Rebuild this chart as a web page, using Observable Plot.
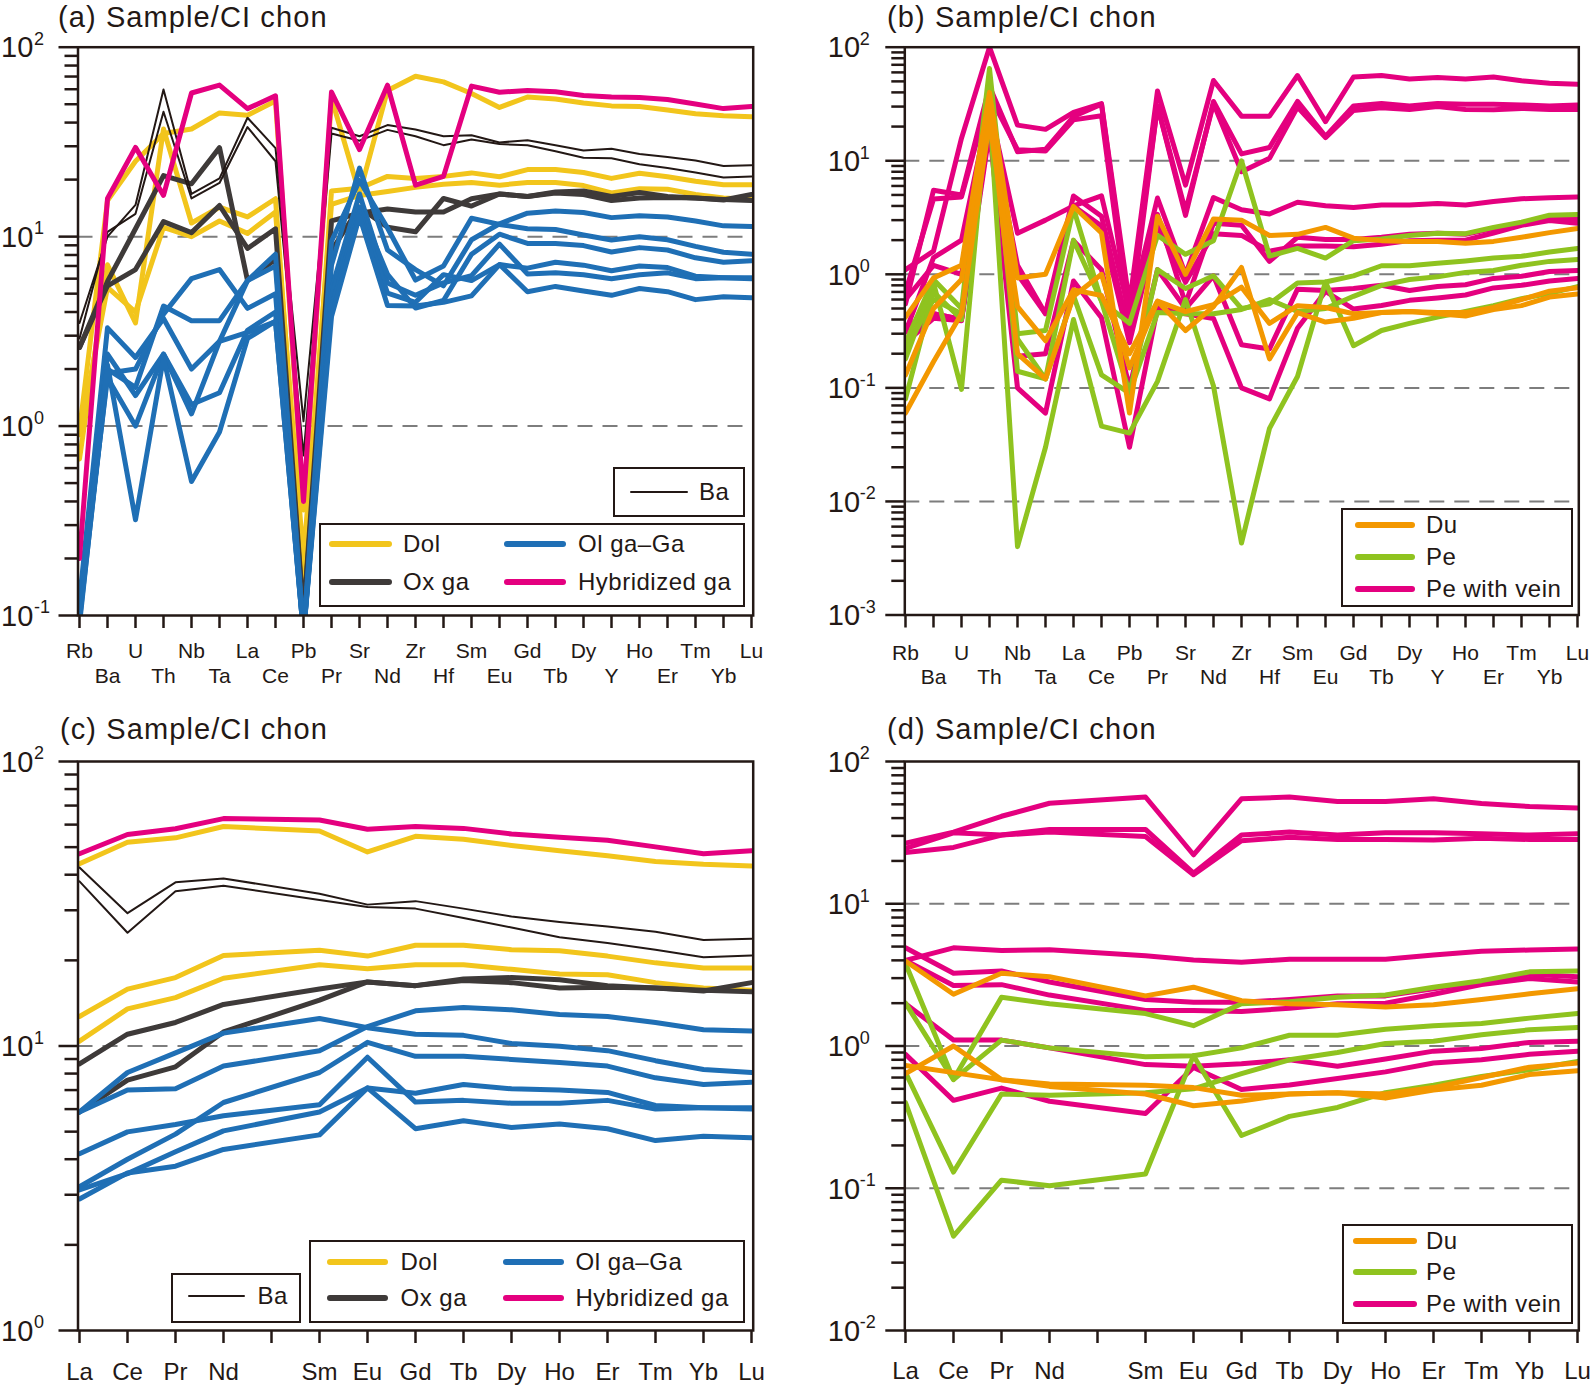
<!DOCTYPE html>
<html><head><meta charset="utf-8">
<script src="https://cdn.jsdelivr.net/npm/d3@7"></script>
<script src="https://cdn.jsdelivr.net/npm/@observablehq/plot@0.6"></script>
<style>
body{margin:0;background:#fff;}
#fig{position:relative;width:1594px;height:1390px;font-family:Arial,"Liberation Sans",sans-serif;color:#231815;overflow:hidden;}
.panel{position:absolute;}
.title{position:absolute;font-size:29px;letter-spacing:1.1px;white-space:nowrap;line-height:24px;}
.lbox{position:absolute;border:2px solid #231815;background:#fff;box-sizing:border-box;}
.sw{position:absolute;border-radius:3px;}
.lt{position:absolute;font-size:24px;line-height:24px;letter-spacing:0.5px;white-space:nowrap;}
</style></head>
<body><div id="fig"></div>
<script>
const ink = "#231815";
// ---------- categories ----------
const spiderElems = ["Rb","Ba","U","Th","Nb","Ta","La","Ce","Pb","Pr","Sr","Nd","Zr","Hf","Sm","Eu","Gd","Tb","Dy","Y","Ho","Er","Tm","Yb","Lu"];
const reeTicks = ["La","Ce","Pr","Nd","Pm","Sm","Eu","Gd","Tb","Dy","Ho","Er","Tm","Yb","Lu"];
const reeElems = reeTicks.filter(d => d !== "Pm");
const titles = ["(a) Sample/CI chon","(b) Sample/CI chon","(c) Sample/CI chon","(d) Sample/CI chon"];

// ---------- panels (a)/(c) : values in spiderElems order ----------
const dol = [
  [0.95,15.5,25,35,37,45,43.7,52.0,0.36,53.9,16.8,59.1,70.3,65.6,57.0,48.1,54.6,53.3,50.7,49.0,48.6,46.6,44.5,43.5,42.9],
  [0.67,7.1,3.5,37,11.8,14.3,12.7,15.85,0.15,17.4,18,20.8,20.3,20.8,21.7,20.7,22.6,22.6,21.8,20.3,21.6,20.7,19.6,18.8,18.8],
  [0.9,5.4,4.0,11.2,10.0,12.1,10.4,13.5,0.2,14.8,16.5,17.3,18.2,18.9,19.3,18.7,19.3,19.3,18.6,17.0,17.9,17.8,16.7,16.0,15.7]
];
const oxGa = [
  [2.6,5.5,6.7,12,10.5,14.6,8.66,11.0,0.1,12.1,13.3,14.0,13.5,13.5,15.85,16.8,16.3,17.2,17.4,16.3,17.1,16.3,16.0,15.7,15.5],
  [2.6,5.8,11,21,19,29.5,5.86,7.59,0.1,8.45,14.3,11.2,10.6,15.9,14.5,16.8,16.3,17.0,16.7,15.5,16.0,16.1,16.0,15.6,16.7]
];
const baSamples = [
  [3.5,10.0,14.7,59.8,16.8,20.3,42.4,29.3,1.06,37.6,33.9,38.8,36.8,33.9,34.3,31.4,32.3,30.4,28.5,29.1,27.3,26.3,25.2,23.6,23.8],
  [2.9,10.6,13.2,45.6,15.9,19.2,37.9,25.0,0.7,35.0,32.1,36.6,33.9,30.4,32.6,30.8,30.4,28.2,26.1,25.9,24.1,23.0,21.8,20.5,20.8]
];
const olGa = [
  [0.1,2.0,1.6,4.3,3.6,3.6,5.86,8.07,0.08,9.46,19.8,11.1,5.9,7.0,12.5,11.6,11.0,10.9,10.2,9.6,9.98,9.63,8.88,8.27,8.07],
  [0.12,3.3,2.3,3.7,2.0,2.8,5.86,7.0,0.08,7.07,23,8.5,6.7,5.5,9.63,11.7,13.3,13.65,13.4,12.6,12.9,12.7,12.1,11.4,11.3],
  [0.095,1.9,2.0,3.9,6.0,6.7,4.18,4.99,0.08,5.3,16.8,5.69,4.9,5.7,6.22,9.13,6.35,6.44,6.29,6.0,6.29,6.44,6.0,6.07,6.07],
  [0.1,2.4,1.45,2.4,1.3,1.5,3.2,4.0,0.08,4.9,14.3,6.33,4.2,4.6,8.07,10.3,9.2,9.2,8.97,8.3,8.75,8.5,7.73,7.32,7.46],
  [0.11,1.8,1.0,2.4,1.16,2.8,3.12,3.56,0.08,4.25,13.5,5.03,4.5,6.3,5.86,7.12,6.82,7.32,7.07,6.6,7.0,6.87,6.18,6.07,6.0],
  [0.09,2.1,0.32,2.3,0.51,0.93,2.9,3.58,0.08,3.78,12.8,4.33,4.3,4.5,4.87,7.12,5.12,5.46,5.17,4.9,5.32,5.12,4.65,4.82,4.76]
];
const hybGa = [
  [0.2,15.9,29.6,16.5,57.3,63.1,47.4,55.4,0.40,58.0,28.8,63.0,18.7,20.8,62.3,57.8,59.1,58.2,55.6,54.6,54.2,52.9,50.1,47.4,48.6]
];

// ---------- panels (b)/(d) : values in spiderElems order ----------
const du = [
  [0.42,0.93,1.2,40,0.93,1.0,3.96,2.31,0.06,3.25,1.0,3.07,3.0,2.2,2.25,2.59,2.08,1.98,1.95,1.95,1.88,1.95,2.12,2.33,2.53],
  [0.13,0.5,0.9,30,0.2,0.12,0.64,1.0,0.15,0.58,0.32,0.52,1.15,0.18,0.46,0.38,0.41,0.46,0.47,0.45,0.43,0.49,0.53,0.63,0.67],
  [0.06,0.17,0.45,22,0.52,0.26,0.73,0.65,0.2,0.58,0.47,0.54,0.77,0.37,0.53,0.51,0.45,0.46,0.47,0.46,0.46,0.51,0.6,0.71,0.76]
];
const pe = [
  [0.25,0.9,0.5,65,0.3,0.32,3.8,0.583,0.37,2.2,1.5,1.98,10,1.45,1.69,1.39,1.98,2.05,2.2,2.3,2.28,2.59,2.88,3.32,3.37],
  [0.18,0.84,0.097,45,0.14,0.12,2.0,0.58,0.09,1.1,0.75,0.97,0.5,0.55,0.84,0.855,0.97,1.19,1.19,1.25,1.31,1.39,1.44,1.57,1.69],
  [0.22,0.6,0.45,30,0.27,0.12,0.65,0.13,0.09,0.46,0.45,0.45,0.49,0.6,0.47,0.5,0.64,0.8,0.9,0.95,1.04,1.08,1.2,1.3,1.35],
  [0.08,0.7,0.4,30,0.004,0.03,0.4,0.046,0.04,0.114,0.6,0.104,0.0043,0.044,0.126,0.855,0.235,0.32,0.37,0.42,0.47,0.53,0.61,0.68,0.78]
];
const peVein = [
  [1.1,1.6,15.8,100,20.6,18.9,26.7,31.9,0.55,41.2,6.1,50.9,24.7,24.7,56.3,22.1,54.7,56.3,52.4,54,52.4,54.7,50.6,48.2,47.1],
  [0.55,5.5,5.0,45,12.0,12.6,24.5,31.5,0.45,30.4,3.3,33.3,11.5,13.1,33.3,16.4,30.4,31.9,30.4,32,31.5,31.5,31.0,30.4,31.0],
  [0.7,4.6,4.8,38,12.5,12.2,22.9,24.9,0.35,30.4,3.6,31.9,8.0,10.5,29.7,16.0,27.7,29.3,28.3,30,28.3,28.1,28.9,28.3,28.3],
  [0.31,1.4,2.0,30,2.3,3.0,4.0,4.9,0.45,4.7,1.0,4.75,3.7,3.4,4.31,4.02,3.88,4.07,4.07,4.2,4.07,4.37,4.63,4.73,4.8],
  [0.26,0.45,0.4,22,1.2,0.45,4.9,3.25,0.3,3.37,0.55,2.82,2.7,1.3,2.12,2.03,2.03,2.12,2.25,2.3,2.25,2.53,2.82,3.2,3.07],
  [0.6,1.2,1.0,28,1.0,0.45,4.0,2.66,0.25,2.7,0.85,2.28,2.2,1.6,1.78,1.78,1.75,1.84,1.98,2.0,2.0,2.31,2.7,2.98,2.82],
  [0.35,0.45,0.4,20,0.19,0.2,1.98,1.10,0.1,1.10,0.5,0.97,0.24,0.22,0.74,0.72,0.75,0.80,0.72,0.78,0.81,0.92,0.96,1.06,1.08],
  [0.25,0.41,0.39,18,0.1,0.06,0.874,0.415,0.03,0.506,0.45,0.409,0.1,0.08,0.335,0.706,0.495,0.532,0.59,0.62,0.658,0.759,0.80,0.874,0.918]
];

// ---------- series styling ----------
const groupsAC = [
  {name:"Dol", data:dol, color:"#f2c51c", width:5},
  {name:"Ox ga", data:oxGa, color:"#3e3a39", width:5},
  {name:"Ba", data:baSamples, color:ink, width:2},
  {name:"Ol ga–Ga", data:olGa, color:"#1f6fb5", width:5},
  {name:"Hybridized ga", data:hybGa, color:"#e4007f", width:5}
];
const groupsBD = [
  {name:"Pe with vein", data:peVein, color:"#e4007f", width:5},
  {name:"Pe", data:pe, color:"#8fc31f", width:5},
  {name:"Du", data:du, color:"#f39800", width:5}
];

function rowsFor(groups, keep) {
  const out = [];
  for (const g of groups) g.data.forEach((vals, i) => vals.forEach((v, j) => {
    const el = spiderElems[j];
    if (!keep || keep.includes(el)) out.push({group:g.name, sample:g.name + "#" + i, el, v});
  }));
  return out;
}

function panel(cfg) {
  const {tickElems, labelRows, rows, groups, lo, hi, W, H, mL, mR, mT, mB, labelFont, labelPads, tenDx, supDx} = cfg;
  const e0 = Math.round(Math.log10(lo)), e1 = Math.round(Math.log10(hi));
  const majors = d3.range(e0, e1 + 1).map(e => Math.pow(10, e));
  const minors = [];
  for (const m of majors.slice(0, -1)) for (let k = 2; k <= 9; k++) minors.push(k * m);
  const grid = majors.slice(1, -1);
  const marks = [
    Plot.ruleY(grid, {stroke:"#7d7d7d", strokeWidth:2, strokeDasharray:"15,10"}),
    ...groups.map(g => Plot.line(rows.filter(r => r.group === g.name),
      {x:"el", y:"v", z:"sample", stroke:g.color, strokeWidth:g.width, clip:true, strokeLinejoin:"round", strokeLinecap:"round"})),
    Plot.axisY({ticks:minors, tickSize:13, stroke:ink, strokeWidth:2.5, fill:"none", tickFormat:() => "", label:null}),
    Plot.axisY({ticks:majors, tickSize:19, stroke:ink, strokeWidth:2.5, fill:"none", tickFormat:() => "", label:null}),
    Plot.text(majors, {y:d => d, frameAnchor:"left", dx:tenDx, dy:1, text:() => "10", textAnchor:"start", fontSize:29, fill:ink}),
    Plot.text(majors, {y:d => d, frameAnchor:"left", dx:supDx, dy:-8, text:d => String(Math.round(Math.log10(d))), textAnchor:"start", fontSize:18, fill:ink}),
    Plot.axisX({ticks:tickElems, tickSize:13, stroke:ink, strokeWidth:2.5, fill:"none", tickFormat:() => "", label:null}),
    ...labelRows.map((r, i) => Plot.axisX({ticks:r, tickSize:0, tickPadding:labelPads[i], fontSize:labelFont, fill:ink, label:null})),
    Plot.frame({stroke:ink, strokeWidth:2.5})
  ];
  return Plot.plot({
    width:W, height:H, marginLeft:mL, marginRight:mR, marginTop:mT, marginBottom:mB,
    x:{type:"point", domain:tickElems, padding:0},
    y:{type:"log", domain:[lo, hi]},
    style:{fontFamily:"Arial, 'Liberation Sans', sans-serif", background:"transparent", overflow:"visible"},
    marks
  });
}

const fig = document.getElementById("fig");
function place(node, left, top) {
  const d = document.createElement("div");
  d.className = "panel"; d.style.left = left + "px"; d.style.top = top + "px";
  d.appendChild(node); fig.appendChild(d);
}
const rowTop = spiderElems.filter((d, i) => i % 2 === 0);
const rowBot = spiderElems.filter((d, i) => i % 2 === 1);

place(panel({tickElems:spiderElems, labelRows:[rowTop, rowBot], rows:rowsFor(groupsAC), groups:groupsAC,
  lo:0.1, hi:100, W:797, H:700, mL:77.5, mR:44.3, mT:46.7, mB:85, labelFont:21, labelPads:[28, 53], tenDx:-77, supDx:-44}), 0, 0);
place(panel({tickElems:spiderElems, labelRows:[rowTop, rowBot], rows:rowsFor(groupsBD), groups:groupsBD,
  lo:0.001, hi:100, W:797, H:700, mL:107.3, mR:15.7, mT:46.7, mB:85.5, labelFont:21, labelPads:[30, 54], tenDx:-77, supDx:-45}), 797, 0);
place(panel({tickElems:reeTicks, labelRows:[reeElems], rows:rowsFor(groupsAC, reeElems), groups:groupsAC,
  lo:1, hi:100, W:797, H:690, mL:77.5, mR:44.3, mT:61, mB:60, labelFont:24, labelPads:[32], tenDx:-77, supDx:-44}), 0, 700);
place(panel({tickElems:reeTicks, labelRows:[reeElems], rows:rowsFor(groupsBD, reeElems), groups:groupsBD,
  lo:0.01, hi:100, W:797, H:690, mL:107.3, mR:15.7, mT:61, mB:60, labelFont:24, labelPads:[31], tenDx:-77, supDx:-45}), 797, 700);

// ---------- titles ----------
[[58,4.5],[887,4.5],[60,717],[887,717]].forEach(([x, y], i) => {
  const t = document.createElement("div");
  t.className = "title"; t.style.left = x + "px"; t.style.top = y + "px"; t.textContent = titles[i];
  fig.appendChild(t);
});

// ---------- legends ----------
function box(x1, y1, x2, y2) {
  const b = document.createElement("div");
  b.className = "lbox";
  Object.assign(b.style, {left:x1 + "px", top:y1 + "px", width:(x2 - x1) + "px", height:(y2 - y1) + "px"});
  fig.appendChild(b);
}
function item(name, x1, x2, y, tx, groups) {
  const g = groups.find(d => d.name === name);
  const th = g.width > 3 ? 6 : 2;
  const s = document.createElement("div");
  s.className = "sw";
  Object.assign(s.style, {left:x1 + "px", top:(y - th / 2) + "px", width:(x2 - x1) + "px", height:th + "px", background:g.color});
  fig.appendChild(s);
  const t = document.createElement("div");
  t.className = "lt"; t.textContent = name;
  Object.assign(t.style, {left:tx + "px", top:(y - 12) + "px"});
  fig.appendChild(t);
}
// (a)
box(613, 466.5, 745, 517);
item("Ba", 630, 688, 491.5, 699, groupsAC);
box(319, 522.5, 745, 607);
item("Dol", 329, 392, 544, 403, groupsAC);
item("Ox ga", 329, 392, 581.5, 403, groupsAC);
item("Ol ga–Ga", 504, 566, 544, 578, groupsAC);
item("Hybridized ga", 504, 566, 581.5, 578, groupsAC);
// (c)
box(171, 1272.5, 301, 1322.5);
item("Ba", 188, 245, 1296, 257.5, groupsAC);
box(308.5, 1239.5, 745, 1322.5);
item("Dol", 326.5, 388, 1261.5, 400.5, groupsAC);
item("Ox ga", 326.5, 388, 1297.5, 400.5, groupsAC);
item("Ol ga–Ga", 502.5, 564, 1261.5, 575.5, groupsAC);
item("Hybridized ga", 502.5, 564, 1297.5, 575.5, groupsAC);
// (b)
box(1341, 508, 1572.5, 607);
item("Du", 1354.5, 1415, 524.5, 1426, groupsBD);
item("Pe", 1354.5, 1415, 556.5, 1426, groupsBD);
item("Pe with vein", 1354.5, 1415, 588.5, 1426, groupsBD);
// (d)
box(1341.5, 1223.5, 1572.5, 1323.5);
item("Du", 1353, 1416.5, 1240.5, 1426, groupsBD);
item("Pe", 1353, 1416.5, 1272, 1426, groupsBD);
item("Pe with vein", 1353, 1416.5, 1304, 1426, groupsBD);
</script></body></html>
